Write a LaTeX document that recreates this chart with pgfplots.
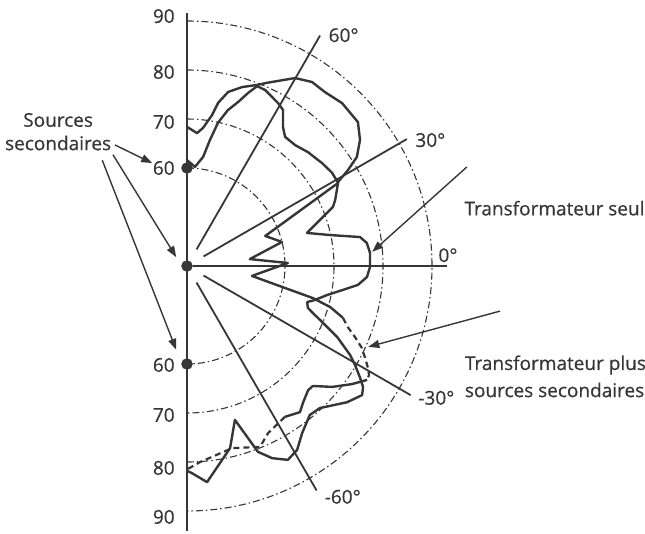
\documentclass[border=0pt]{standalone}
\usepackage{pgfplots}
\pgfplotsset{compat=1.18}
\usepackage{pgfplotstable}
\usepackage{fontspec}
\setmainfont[FakeBold=0.5]{Open Sans}
\usetikzlibrary{arrows.meta}
\definecolor{ink}{HTML}{363636}
\newcommand\lab{\fontsize{19}{22}\selectfont}

% angle (deg), level (dB)
\pgfplotstableread{
a db
90 68.4
85.7 67.2
83.4 68.35
80.6 71.2
79.2 73.9
76.7 76.5
72.9 78.2
68.9 79.6
66.4 80.8
60.1 84.25
55.8 85.4
51.6 85.3
46.4 85.9
40.1 85.6
36.1 83.7
32.7 81.2
30.8 78.25
29.1 75.3
26.9 74.3
24.0 73.1
22.0 72.1
19.1 68.7
15.4 65.4
12.2 69.9
9.5 75.8
7.3 77.0
4.1 77.45
-0.3 77.35
-3.5 76.8
-6.3 75.1
-8.7 72.2
-11.7 69.2
-14.9 67.0
-16.7 65.6
-19.1 66.1
-20.5 67.45
-22.7 70.1
-25.3 73.9
-28.6 77.9
-30.5 79.8
-32.7 81.9
-34.5 83.6
-36.4 84.4
-40.4 82.9
-46.9 79.7
-50.5 79.4
-55.4 81.4
-59.1 83.75
-62.5 84.6
-66.1 82.9
-69.1 80.6
-72.7 72.9
-76.7 78.2
-84.7 84.3
-88.6 82.3
-90 81.8
}\seul

\pgfplotstableread{
a db
90 61.6
85.4 60.3
81.6 62.5
79.7 66.1
77.8 69.9
75.3 72.9
72.7 75.05
70.6 77.4
68.7 79.4
66.1 79.3
60.8 78.1
58.4 77.4
55.4 74.5
52.8 73.1
48.2 73.1
43.3 73.9
37.3 74.65
32.7 75.2
28.8 75.2
21.0 57.1
14.2 60.0
6.3 52.9
1.7 60.6
-8.7 53.4
-14.3 66.5
-16.0 70.4
-18.4 73.55
}\plusA

\pgfplotstableread{
a db
-18.4 73.55
-20.8 75.1
-22.9 77.2
-25.1 79.4
-27.3 80.9
-29.4 82.4
-30.9 83.3
-32.3 83.5
}\plusB

\pgfplotstableread{
a db
-32.3 83.5
-35.6 81.4
-39.8 78.55
-43.6 75.5
-45.7 75.4
-49.7 76.6
-52.3 77.7
-57.0 76.7
}\plusC

\pgfplotstableread{
a db
-57.0 76.7
-64.1 77.9
-68.0 79.8
-76.1 78.3
-86.2 80.1
-89.7 81.4
}\plusD

\begin{document}
\begin{tikzpicture}
\begin{axis}[
  scale only axis, width=645pt, height=533pt,
  xmin=-38.163, xmax=93.469, ymin=-54.49, ymax=54.286,
  hide axis, clip=false,
]
\coordinate (bl) at (rel axis cs:0,0);
\coordinate (tr) at (rel axis cs:1,1);

% grid arcs (60, 70, 80, 90 dB)
\foreach \r in {98,147,196,245}{
  \edef\tmp{\noexpand\draw[ink, line width=1.1pt, dash pattern=on 7pt off 3pt on 1.5pt off 3pt]
    (axis cs:0,\r/4.9) arc[start angle=90, end angle=-90, radius=\r pt];}
  \tmp
}

% vertical axis
\addplot[ink, line width=2pt, data cs=polar] coordinates {(90,51.6) (90,0) (-90,54)};

% radial lines
\addplot[ink, line width=1.8pt, data cs=polar] coordinates {(60,3.9) (60,54.3)};
\addplot[ink, line width=1.8pt, data cs=polar] coordinates {(30,3.9) (30,51.8)};
\addplot[ink, line width=1.8pt, data cs=polar] coordinates {(0,1.2) (0,53.1)};
\addplot[ink, line width=1.8pt, data cs=polar] coordinates {(-30,3.9) (-30,52.7)};
\addplot[ink, line width=1.8pt, data cs=polar] coordinates {(-60,3.9) (-60,52.9)};

% curves
\addplot[ink, line width=2.4pt, line join=round, data cs=polar] table[x=a, y expr=\thisrow{db}-40] {\seul};
\addplot[ink, line width=2.4pt, line join=round, data cs=polar] table[x=a, y expr=\thisrow{db}-40] {\plusA};
\addplot[ink, line width=2.2pt, dash pattern=on 6pt off 4pt, data cs=polar] table[x=a, y expr=\thisrow{db}-40] {\plusB};
\addplot[ink, line width=2.4pt, line join=round, data cs=polar] table[x=a, y expr=\thisrow{db}-40] {\plusC};
\addplot[ink, line width=2.2pt, dash pattern=on 6pt off 4pt, data cs=polar] table[x=a, y expr=\thisrow{db}-40] {\plusD};

% secondary sources
\addplot[ink, only marks, mark=*, mark size=5.5pt, data cs=polar] coordinates {(90,20) (0,0) (-90,20)};

% scale labels
\node[anchor=east, text=ink, font=\lab] at (axis cs:-1.8,51.0) {90};
\node[anchor=east, text=ink, font=\lab] at (axis cs:-1.8,39.6) {80};
\node[anchor=east, text=ink, font=\lab] at (axis cs:-1.8,29.4) {70};
\node[anchor=east, text=ink, font=\lab] at (axis cs:-1.8,20.0) {60};
\node[anchor=east, text=ink, font=\lab] at (axis cs:-1.8,-20.2) {60};
\node[anchor=east, text=ink, font=\lab] at (axis cs:-1.8,-30.4) {70};
\node[anchor=east, text=ink, font=\lab] at (axis cs:-1.8,-41.2) {80};
\node[anchor=east, text=ink, font=\lab] at (axis cs:-1.8,-51.2) {90};

% angle labels
\node[anchor=west, text=ink, font=\lab] at (axis cs:28.2,47.1) {60°};
\node[anchor=west, text=ink, font=\lab] at (axis cs:45.9,25.7) {30°};
\node[anchor=west, text=ink, font=\lab] at (axis cs:50.6,2.2) {0°};
\node[anchor=west, text=ink, font=\lab] at (axis cs:46.5,-26.9) {-30°};
\node[anchor=west, text=ink, font=\lab] at (axis cs:27.4,-47.1) {-60°};

% annotations
\node[text=ink, font=\lab] at (axis cs:-26.3,29.8) {Sources};
\node[text=ink, font=\lab] at (axis cs:-26.3,25.1) {secondaires};
\node[anchor=west, text=ink, font=\lab] at (axis cs:55.9,11.8) {Transformateur seul};
\node[anchor=west, text=ink, font=\lab] at (axis cs:56.0,-20.2) {Transformateur plus};
\node[anchor=west, text=ink, font=\lab] at (axis cs:56.0,-25.3) {sources secondaires};

\draw[ink, line width=1.4pt, -{Triangle[length=11pt,width=8pt]}] (axis cs:-14.7,24.7) -- (axis cs:-7.1,21.0);
\draw[ink, line width=1.4pt, -{Triangle[length=11pt,width=8pt]}] (axis cs:-15.1,22.7) -- (axis cs:-2.2,1.8);
\draw[ink, line width=1.4pt, -{Triangle[length=11pt,width=8pt]}] (axis cs:-17.3,21.6) -- (axis cs:-2.2,-17.1);
\draw[ink, line width=1.4pt, -{Triangle[length=11pt,width=8pt]}] (axis cs:57.1,20.2) -- (axis cs:37.8,2.9);
\draw[ink, line width=1.4pt, -{Triangle[length=11pt,width=8pt]}] (axis cs:63.9,-9.2) -- (axis cs:37.0,-16.5);
\end{axis}
\pgfresetboundingbox
\useasboundingbox (bl) rectangle (tr);
\end{tikzpicture}
\end{document}
